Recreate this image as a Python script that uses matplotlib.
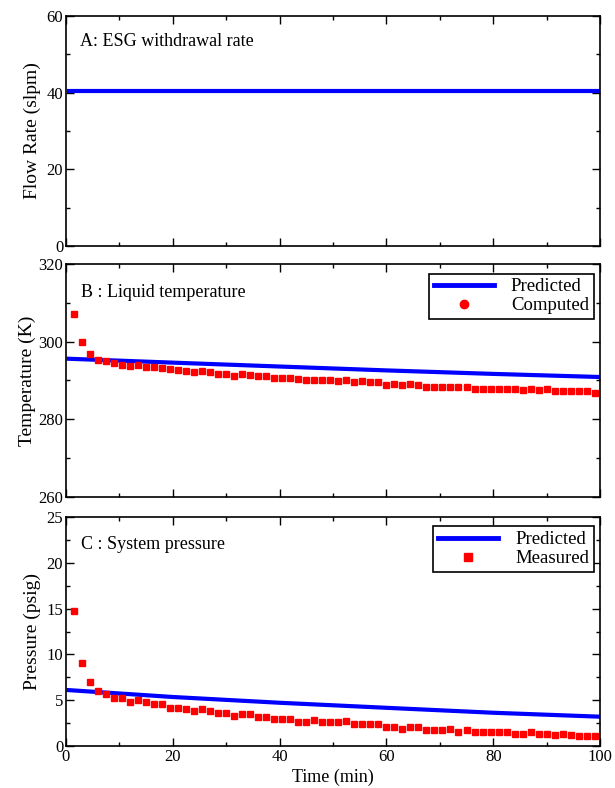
import matplotlib.pyplot as plt
from matplotlib.lines import Line2D

plt.rcParams['font.family'] = ['Liberation Serif', 'DejaVu Serif']

# sample times (min) for the computed / measured points
t_pts = [1.5, 3.0, 4.5, 6.0, 7.5, 9.0, 10.5, 12.0, 13.5, 15.0, 16.5, 18.0,
         19.5, 21.0, 22.5, 24.0, 25.5, 27.0, 28.5, 30.0, 31.5, 33.0, 34.5, 36.0,
         37.5, 39.0, 40.5, 42.0, 43.5, 45.0, 46.5, 48.0, 49.5, 51.0, 52.5, 54.0,
         55.5, 57.0, 58.5, 60.0, 61.5, 63.0, 64.5, 66.0, 67.5, 69.0, 70.5, 72.0,
         73.5, 75.0, 76.5, 78.0, 79.5, 81.0, 82.5, 84.0, 85.5, 87.0, 88.5, 90.0,
         91.5, 93.0, 94.5, 96.0, 97.5, 99.0]

# A: withdrawal rate
t_flow = [0.5, 100]
flow = [40.5, 40.5]

# B: liquid temperature
t_pred = [0.5, 20, 40, 60, 80, 100]
temp_pred = [295.6, 294.6, 293.6, 292.6, 291.7, 290.9]
temp_comp = [307.0, 300.0, 296.9, 295.4, 294.9, 294.5, 293.9, 293.7, 294.0, 293.6,
             293.4, 293.2, 293.0, 292.7, 292.5, 292.1, 292.5, 292.1, 291.7, 291.6,
             291.2, 291.7, 291.5, 291.1, 291.1, 290.7, 290.7, 290.6, 290.3, 290.2,
             290.2, 290.1, 290.1, 289.9, 290.1, 289.7, 289.8, 289.6, 289.6, 288.9,
             289.0, 288.9, 289.0, 288.8, 288.3, 288.3, 288.4, 288.4, 288.3, 288.4,
             287.9, 287.9, 287.9, 287.9, 287.9, 287.9, 287.5, 287.7, 287.5, 287.7,
             287.3, 287.3, 287.3, 287.3, 287.3, 286.9]

# C: system pressure
pres_pred = [6.1, 5.35, 4.72, 4.17, 3.63, 3.2]
pres_meas = [14.7, 9.07, 6.97, 5.95, 5.70, 5.26, 5.19, 4.83, 4.97, 4.79,
             4.61, 4.61, 4.17, 4.17, 3.99, 3.81, 4.06, 3.81, 3.63, 3.63,
             3.27, 3.48, 3.48, 3.19, 3.16, 2.98, 2.98, 2.98, 2.65, 2.65,
             2.79, 2.65, 2.65, 2.65, 2.72, 2.43, 2.43, 2.36, 2.36, 2.03,
             2.03, 1.89, 2.07, 2.07, 1.71, 1.71, 1.71, 1.85, 1.52, 1.71,
             1.52, 1.52, 1.52, 1.52, 1.52, 1.34, 1.34, 1.52, 1.34, 1.34,
             1.16, 1.27, 1.16, 1.12, 1.12, 1.12]

blue = '#0000ff'
red = '#ff0000'
fs_tick = 12
fs_text = 13
fs_ylab = 14
fs_leg = 13.5

fig = plt.figure(figsize=(6.15, 7.88), dpi=100)
left, width = 66 / 615, 534 / 615
axA = fig.add_axes([left, 1 - 246 / 788, width, 230 / 788])
axB = fig.add_axes([left, 1 - 497 / 788, width, 233 / 788])
axC = fig.add_axes([left, 1 - 746 / 788, width, 229 / 788])


def style(ax, yticks, yminor, show_x):
    ax.set_xlim(0, 100)
    ax.set_ylim(yticks[0], yticks[-1])
    ax.set_yticks(yticks)
    ax.set_yticks(yminor, minor=True)
    ax.set_xticks([0, 20, 40, 60, 80, 100])
    ax.set_xticks([10, 30, 50, 70, 90], minor=True)
    ax.tick_params(which='both', direction='in', top=True, right=True,
                   labelsize=fs_tick, width=1, pad=2)
    ax.tick_params(which='major', length=6)
    ax.tick_params(which='minor', length=3)
    if not show_x:
        ax.tick_params(labelbottom=False)
    for s in ax.spines.values():
        s.set_linewidth(1.2)


def legend(ax, labels, mark):
    h = [Line2D([], [], color=blue, lw=3.5),
         Line2D([], [], ls='', marker=mark, color=red, ms=6)]
    leg = ax.legend(h, labels, loc='upper right', bbox_to_anchor=(0.995, 0.975),
                    fontsize=fs_leg, fancybox=False, framealpha=1,
                    edgecolor='black', handlelength=3.2, borderpad=0.25,
                    labelspacing=0.1, handletextpad=0.9, borderaxespad=0.2)
    leg.get_frame().set_linewidth(1.2)


# panel A
axA.plot(t_flow, flow, color=blue, lw=3)
style(axA, [0, 20, 40, 60], [10, 30, 50], False)
axA.set_ylabel('Flow Rate (slpm)', fontsize=fs_ylab, labelpad=4)
axA.text(0.026, 0.87, 'A: ESG withdrawal rate', transform=axA.transAxes,
         fontsize=fs_text)

# panel B
axB.plot(t_pred, temp_pred, color=blue, lw=3)
axB.plot(t_pts, temp_comp, 's', color=red, ms=3.7, mec=red)
style(axB, [260, 280, 300, 320], [270, 290, 310], False)
axB.set_ylabel('Temperature (K)', fontsize=fs_ylab, labelpad=2)
axB.text(0.028, 0.86, 'B : Liquid temperature', transform=axB.transAxes,
         fontsize=fs_text)
legend(axB, ['Predicted', 'Computed'], 'o')

# panel C
axC.plot(t_pred, pres_pred, color=blue, lw=3)
axC.plot(t_pts, pres_meas, 's', color=red, ms=3.7, mec=red)
style(axC, [0, 5, 10, 15, 20, 25], [2.5, 7.5, 12.5, 17.5, 22.5], True)
axC.set_ylabel('Pressure (psig)', fontsize=fs_ylab, labelpad=4)
axC.set_xlabel('Time (min)', fontsize=fs_text, labelpad=3)
axC.text(0.028, 0.86, 'C : System pressure', transform=axC.transAxes,
         fontsize=fs_text)
legend(axC, ['Predicted', 'Measured'], 's')

fig.savefig('out.png', dpi=100)
